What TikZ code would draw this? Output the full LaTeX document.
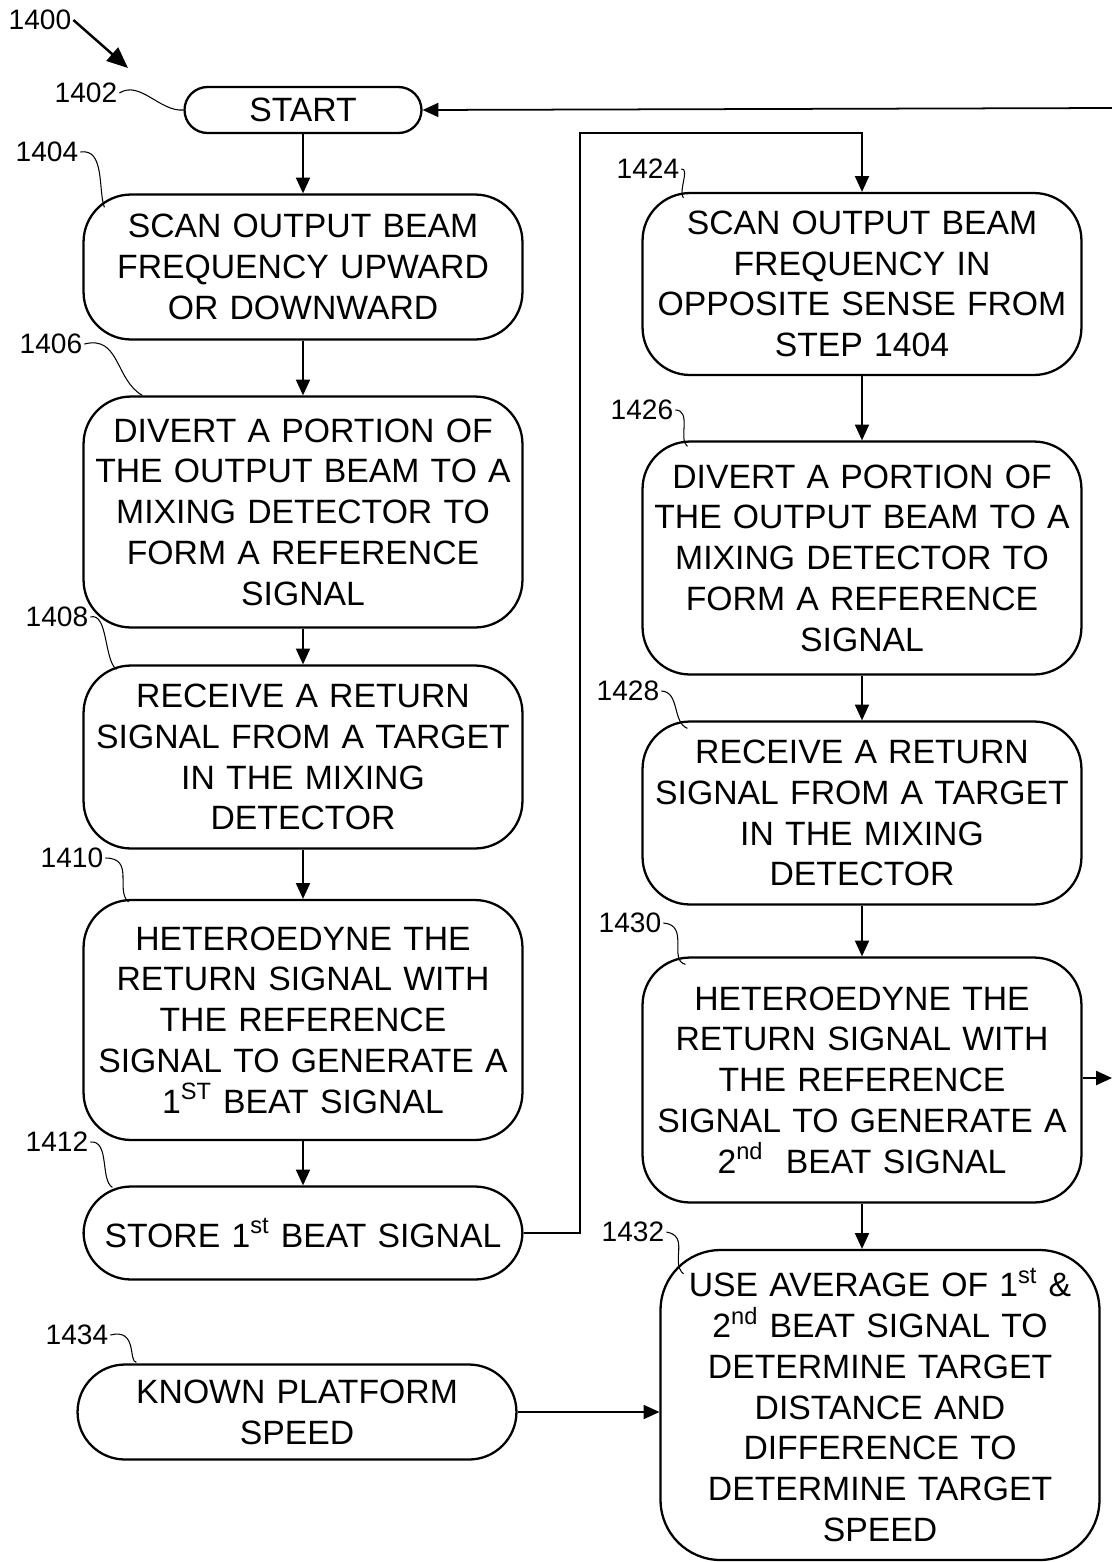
\documentclass[tikz,border=0pt]{standalone}
\usepackage{fontspec}
\setmainfont{Liberation Sans}
\usetikzlibrary{arrows.meta}

\tikzset{
    stepbox/.style={draw, line width=1.3pt, rounded corners=0.95cm, align=center,
        minimum width=8.78cm, text width=8.7cm, inner sep=0pt,
        font=\fontsize{19.2}{23.2}\selectfont},
    refnum/.style={font=\fontsize{16}{18}\selectfont, inner sep=1pt},
    lead/.style={line width=0.6pt},
    flow/.style={line width=1pt, -{Triangle[length=9pt,width=8pt]}}
}

\begin{document}
\begin{tikzpicture}[x=0.02cm, y=-0.02cm]
    \useasboundingbox (0,0) rectangle (1112,1562);
    % Left column of steps.
        \node[draw, line width=1.3pt, rounded corners=0.46cm, minimum width=4.74cm,
            minimum height=0.92cm, inner sep=0pt, font=\fontsize{19.2}{23.2}\selectfont]
            (start) at (303,110) {START};
        \node[stepbox, minimum height=2.9cm] (b1404) at (303,267)
            {SCAN OUTPUT BEAM\\FREQUENCY UPWARD\\OR DOWNWARD};
        \node[stepbox, minimum height=4.62cm] (b1406) at (303,512)
            {DIVERT A PORTION OF\\THE OUTPUT BEAM TO A\\MIXING DETECTOR TO\\FORM A REFERENCE\\SIGNAL};
        \node[stepbox, minimum height=3.66cm] (b1408) at (303,757)
            {RECEIVE A RETURN\\SIGNAL FROM A TARGET\\IN THE MIXING\\DETECTOR};
        \node[stepbox, minimum height=4.8cm] (b1410) at (303,1020)
            {HETEROEDYNE THE\\RETURN SIGNAL WITH\\THE REFERENCE\\SIGNAL TO GENERATE A\\1\textsuperscript{ST} BEAT SIGNAL};
        \node[stepbox, minimum height=1.86cm] (b1412) at (303,1233)
            {STORE 1\textsuperscript{st} BEAT SIGNAL};
        \node[stepbox, minimum height=1.9cm] (b1434) at (297,1412)
            {KNOWN PLATFORM\\SPEED};
    % Right column of steps.
        \node[stepbox, minimum height=3.64cm] (b1424) at (862,284)
            {SCAN OUTPUT BEAM\\FREQUENCY IN\\OPPOSITE SENSE FROM\\STEP 1404};
        \node[stepbox, minimum height=4.66cm] (b1426) at (862,558)
            {DIVERT A PORTION OF\\THE OUTPUT BEAM TO A\\MIXING DETECTOR TO\\FORM A REFERENCE\\SIGNAL};
        \node[stepbox, minimum height=3.66cm] (b1428) at (862,813)
            {RECEIVE A RETURN\\SIGNAL FROM A TARGET\\IN THE MIXING\\DETECTOR};
        \node[stepbox, minimum height=4.9cm] (b1430) at (862,1080)
            {HETEROEDYNE THE\\RETURN SIGNAL WITH\\THE REFERENCE\\SIGNAL TO GENERATE A\\2\textsuperscript{nd}\ \ BEAT SIGNAL};
        \node[stepbox, rounded corners=1.2cm, minimum height=6.2cm] (b1432) at (880,1405)
            {USE AVERAGE OF 1\textsuperscript{st} \&\\2\textsuperscript{nd} BEAT SIGNAL TO\\DETERMINE TARGET\\DISTANCE AND\\DIFFERENCE TO\\DETERMINE TARGET\\SPEED};
    % Reference numerals.
        \node[refnum] (l1400) at (40,20) {1400};
        \node[refnum] (l1402) at (86,93) {1402};
        \node[refnum] (l1404) at (47,152) {1404};
        \node[refnum] (l1406) at (51,344) {1406};
        \node[refnum] (l1408) at (57,617) {1408};
        \node[refnum] (l1410) at (72,858) {1410};
        \node[refnum] (l1412) at (57,1142) {1412};
        \node[refnum] (l1434) at (77,1335) {1434};
        \node[refnum] (l1424) at (648,169) {1424};
        \node[refnum] (l1426) at (642,410) {1426};
        \node[refnum] (l1428) at (628,691) {1428};
        \node[refnum] (l1430) at (630,923) {1430};
        \node[refnum] (l1432) at (633,1232) {1432};
    % Lead lines from the numerals.
        \coordinate (p1400) at (128,68);
        \draw[line width=1.4pt, -{Triangle[length=12pt,width=10pt]}] (l1400.east) -- (p1400);
        \draw[lead] (l1402.east) .. controls (140,80) and (160,112) .. (start.west);
        \draw[lead] (l1404.east) .. controls (105,148) and (98,190) .. ([shift={(22,14)}]b1404.north west);
        \draw[lead] (l1406.east) .. controls (120,335) and (115,380) .. ([shift={(60,0)}]b1406.north west);
        \draw[lead] (l1408.east) .. controls (108,612) and (104,660) .. ([shift={(34,5)}]b1408.north west);
        \draw[lead] (l1410.east) .. controls (135,858) and (115,890) .. ([shift={(46,3)}]b1410.north west);
        \draw[lead] (l1412.east) .. controls (110,1140) and (100,1180) .. ([shift={(30,2)}]b1412.north west);
        \draw[lead] (l1434.east) .. controls (138,1328) and (128,1362) .. ([shift={(60,-1)}]b1434.north west);
        \draw[lead] (l1424.east) .. controls (690,168) and (678,192) .. ([shift={(42,6)}]b1424.north west);
        \draw[lead] (l1426.east) .. controls (692,410) and (678,440) .. ([shift={(46,6)}]b1426.north west);
        \draw[lead] (l1428.east) .. controls (680,692) and (672,722) .. ([shift={(46,8)}]b1428.north west);
        \draw[lead] (l1430.east) .. controls (690,925) and (668,960) .. ([shift={(44,8)}]b1430.north west);
        \draw[lead] (l1432.east) .. controls (690,1236) and (670,1262) .. ([shift={(24,25)}]b1432.north west);
    % Flow arrows.
        \draw[flow] (start) -- (b1404);
        \draw[flow] (b1404) -- (b1406);
        \draw[flow] (b1406) -- (b1408);
        \draw[flow] (b1408) -- (b1410);
        \draw[flow] (b1410) -- (b1412);
        \coordinate (loop) at (580,133);
        \draw[flow] (b1412.east) -| (loop) -| (b1424.north);
        \draw[flow] (b1424) -- (b1426);
        \draw[flow] (b1426) -- (b1428);
        \draw[flow] (b1428) -- (b1430);
        \draw[flow] (b1430.south) -- (b1430.south |- b1432.north);
        \draw[flow] (b1434.east) -- (b1434.east -| b1432.west);
    % Off-page continuation.
        \coordinate (out) at (1112,1078);
        \coordinate (back) at (1112,108);
        \draw[flow] (b1430.east |- out) -- (out);
        \draw[flow] (back) -- (start.east);
\end{tikzpicture}
\end{document}
